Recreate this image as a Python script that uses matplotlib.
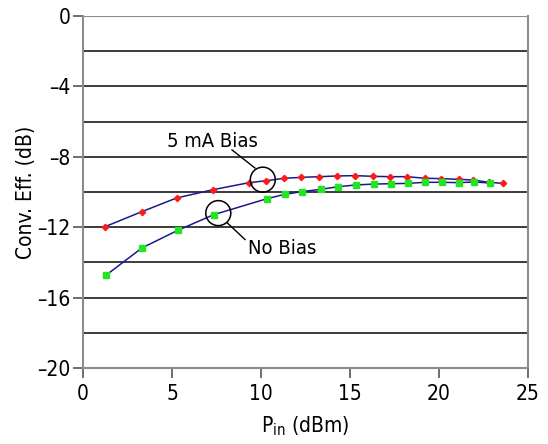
import matplotlib
matplotlib.use('Agg')
from matplotlib import pyplot as plt
from matplotlib.patches import Ellipse

# 5 mA bias curve
bias_pin = [1.24, 3.3, 5.26, 7.3, 9.33, 10.3, 11.3, 12.26, 13.28, 14.27, 15.28,
            16.27, 17.25, 18.2, 19.2, 20.1, 21.1, 21.9, 22.8, 23.6]
bias_eff = [-11.97, -11.12, -10.34, -9.87, -9.47, -9.36, -9.22, -9.17, -9.13, -9.09, -9.07,
            -9.11, -9.13, -9.13, -9.22, -9.24, -9.28, -9.32, -9.45, -9.51]

# no bias curve
nobias_pin = [1.29, 3.31, 5.32, 7.34, 10.34, 11.35, 12.3, 13.35, 14.33, 15.34,
              16.33, 17.3, 18.28, 19.21, 20.17, 21.12, 21.97, 22.87]
nobias_eff = [-14.73, -13.18, -12.18, -11.29, -10.38, -10.13, -9.98, -9.85, -9.70, -9.60,
              -9.55, -9.53, -9.51, -9.45, -9.45, -9.47, -9.43, -9.49]

x_ticks = [0, 5, 10, 15, 20, 25]
y_ticks = [-20, -16, -12, -8, -4, 0]

plt.rcParams['font.family'] = ['DejaVu Sans']
plt.rcParams['font.stretch'] = 'condensed'

fig = plt.figure(figsize=(5.48, 4.44), dpi=100)
ax = fig.add_axes([0.1515, 0.1712, 0.812, 0.7928])

for y in range(-18, 0, 2):
    ax.axhline(y, color='#1a1a1a', lw=1.2, zorder=1)
ax.axhline(0, color='#8c8c8c', lw=1.5, zorder=1)

ax.plot(bias_pin, bias_eff, color='#1a1a8c', lw=1.1, zorder=2)
ax.plot(bias_pin, bias_eff, 'D', color='#ff1a1a', ms=3.2, zorder=3)
ax.plot(nobias_pin, nobias_eff, color='#1a1a8c', lw=1.1, zorder=2)
ax.plot(nobias_pin, nobias_eff, 's', color='#22e622', ms=4.2, zorder=3)

# callout circles (12.5 px radius)
ax.add_patch(Ellipse((10.1, -9.3), 25 / 17.8, 25 / 17.6, fill=False, ec='black', lw=1.1, zorder=4))
ax.add_patch(Ellipse((7.6, -11.2), 25 / 17.8, 25 / 17.6, fill=False, ec='black', lw=1.1, zorder=4))
ax.plot([9.66, 8.37], [-8.64, -7.61], color='black', lw=1.0)
ax.plot([8.1, 9.1], [-11.75, -12.7], color='black', lw=1.0)
ax.text(7.25, -7.45, '5 mA Bias', fontsize=14.5, ha='center', va='baseline')
ax.text(9.27, -13.2, 'No Bias', fontsize=14.5, ha='left', va='center')

ax.set_xlim(0, 25)
ax.set_ylim(-20, 0)
ax.set_xticks(x_ticks)
ax.set_yticks(y_ticks)
ax.set_yticklabels(['\u2013' + str(-v) if v < 0 else str(v) for v in y_ticks])
ax.tick_params(direction='out', length=7.2, width=1.2, color='#555555', labelsize=15, pad=2)
ax.tick_params(axis='x', pad=4)

for side in ['left', 'bottom', 'right']:
    ax.spines[side].set_color('#8c8c8c')
    ax.spines[side].set_linewidth(1.5)
ax.spines['top'].set_visible(False)

ax.set_xlabel('P$_{\\mathregular{in}}$ (dBm)', fontsize=15, labelpad=8)
ax.set_ylabel('Conv. Eff. (dB)', fontsize=15, labelpad=1)

fig.savefig('out.png', dpi=100)
